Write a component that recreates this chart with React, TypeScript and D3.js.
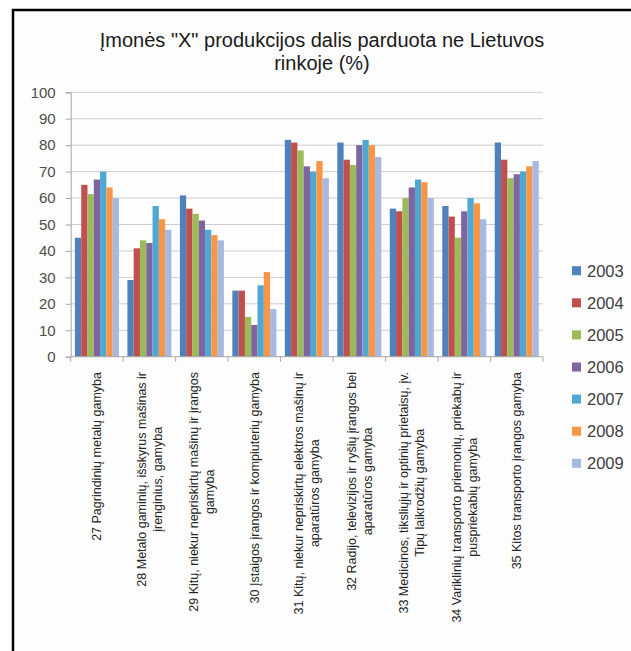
import React, { useEffect, useRef } from "react";
import * as d3 from "d3";

const years = ["2003", "2004", "2005", "2006", "2007", "2008", "2009"];
const yearColors = ["#4F81BD", "#C0504D", "#9BBB59", "#8064A2", "#4FA8D2", "#F79646", "#A7B9E0"];

const categories = ["27", "28", "29", "30", "31", "32", "33", "34", "35"];
const categoryLabels = [
  ["27 Pagrindinių metalų gamyba"],
  ["28 Metalo gaminių, išskyrus mašinas ir", "įrenginius, gamyba"],
  ["29 Kitų, niekur nepriskirtų mašinų ir įrangos", "gamyba"],
  ["30 Įstaigos įrangos ir kompiuterių gamyba"],
  ["31 Kitų, niekur nepriskirtų elektros mašinų ir", "aparatūros gamyba"],
  ["32 Radijo, televizijos ir ryšių įrangos bei", "aparatūros gamyba"],
  ["33 Medicinos, tiksliųjų ir optinių prietaisų, įv.", "Tipų laikrodžių gamyba"],
  ["34 Variklinių transporto priemonių, priekabų ir", "puspriekabių gamyba"],
  ["35 Kitos transporto įrangos gamyba"],
];

const v2003 = [45, 29, 61, 25, 82, 81, 56, 57, 81];
const v2004 = [65, 41, 56, 25, 81, 74.5, 55, 53, 74.5];
const v2005 = [61.5, 44, 54, 15, 78, 72.5, 60, 45, 67.5];
const v2006 = [67, 43, 51.5, 12, 72, 80, 64, 55, 69];
const v2007 = [70, 57, 48, 27, 70, 82, 67, 60, 70];
const v2008 = [64, 52, 46, 32, 74, 80, 66, 58, 72];
const v2009 = [60, 48, 44, 18, 67.5, 75.5, 60, 52, 74];
const seriesValues = [v2003, v2004, v2005, v2006, v2007, v2008, v2009];

const yTicks = [0, 10, 20, 30, 40, 50, 60, 70, 80, 90, 100];
const titleLines = ['Įmonės "X" produkcijos dalis parduota ne Lietuvos', "rinkoje (%)"];

export default function App() {
  const svgRef = useRef<SVGSVGElement>(null);
  const width = 631;
  const height = 651;

  useEffect(() => {
    const svg = d3.select(svgRef.current);
    svg.selectAll("*").remove();

    const plotLeft = 70.7, plotRight = 543, plotTop = 92.3, plotBottom = 356.7;
    const font = "Liberation Sans, Arial, sans-serif";

    // frame
    svg.append("rect").attr("x", 13).attr("y", 10).attr("width", width).attr("height", height)
      .attr("fill", "#fdfdfd").attr("stroke", "#000").attr("stroke-width", 2.5);

    // title
    svg.append("g").selectAll("text").data(titleLines).join("text")
      .attr("x", 322).attr("y", (d, i) => 47 + i * 23)
      .attr("text-anchor", "middle")
      .attr("font-family", font)
      .attr("font-size", 20)
      .attr("fill", "#1a1a1a")
      .text(d => d);

    const xScale = d3.scaleBand().domain(categories).range([plotLeft, plotRight])
      .paddingInner(0.161).paddingOuter(0.0805);
    const innerScale = d3.scaleBand().domain(years).range([0, xScale.bandwidth()]);
    const yScale = d3.scaleLinear().domain([0, 100]).range([plotBottom, plotTop]);

    // grid
    svg.append("g").selectAll("line").data(yTicks.filter(t => t > 0)).join("line")
      .attr("x1", plotLeft).attr("x2", plotRight)
      .attr("y1", d => yScale(d)).attr("y2", d => yScale(d))
      .attr("stroke", "#cdcdcd").attr("stroke-width", 1);

    // y axis
    const yAxis = d3.axisLeft(yScale).tickValues(yTicks).tickSize(5).tickPadding(10);
    const yg = svg.append("g").attr("transform", `translate(${plotLeft},0)`).call(yAxis);
    yg.select(".domain").attr("stroke", "#a6a6a6");
    yg.selectAll(".tick line").attr("stroke", "#a6a6a6");
    yg.selectAll(".tick text").attr("font-family", font)
      .attr("font-size", 15).attr("fill", "#4d4d4d");

    // bars
    seriesValues.forEach((vals, s) => {
      svg.append("g").selectAll("rect").data(vals).join("rect")
        .attr("x", (d, i) => xScale(categories[i])! + innerScale(years[s])!)
        .attr("width", innerScale.bandwidth())
        .attr("y", d => yScale(d))
        .attr("height", d => plotBottom - yScale(d))
        .attr("fill", yearColors[s]);
    });

    // x axis line and ticks between categories
    svg.append("line").attr("x1", plotLeft).attr("x2", plotRight)
      .attr("y1", plotBottom).attr("y2", plotBottom).attr("stroke", "#a6a6a6");
    const step = xScale.step();
    svg.append("g").selectAll("line").data(d3.range(categories.length + 1)).join("line")
      .attr("x1", d => plotLeft + d * step).attr("x2", d => plotLeft + d * step)
      .attr("y1", plotBottom).attr("y2", plotBottom + 5).attr("stroke", "#a6a6a6");

    // rotated category labels
    const fs = 12.5, lh = 16, labelTop = 372;
    categoryLabels.forEach((lines, c) => {
      const cx = xScale(categories[c])! + xScale.bandwidth() / 2;
      const g = svg.append("g");
      const texts = g.selectAll("text").data(lines).join("text")
        .attr("text-anchor", "middle")
        .attr("font-family", font)
        .attr("font-size", fs)
        .attr("fill", "#262626")
        .text(d => d);
      let maxLen = 0;
      texts.each(function () {
        maxLen = Math.max(maxLen, (this as SVGTextElement).getComputedTextLength());
      });
      const n = lines.length;
      texts.attr("transform", (d, i) => {
        const x = cx + (i - (n - 1) / 2) * lh + fs * 0.36;
        const y = labelTop + maxLen / 2;
        return `translate(${x},${y}) rotate(-90)`;
      });
    });

    // legend
    const legend = svg.append("g").attr("transform", "translate(572,0)");
    years.forEach((yr, i) => {
      const cy = 270.7 + i * 32.1;
      legend.append("rect").attr("x", 0).attr("y", cy - 4.5).attr("width", 9).attr("height", 9)
        .attr("fill", yearColors[i]);
      legend.append("text").attr("x", 15).attr("y", cy).attr("dy", "0.36em")
        .attr("font-family", font)
        .attr("font-size", 16.5).attr("fill", "#404040")
        .text(yr);
    });
  }, []);

  return (
    <svg ref={svgRef} width={width} height={height}
      style={{ position: "absolute", left: 0, top: 0, background: "#fff" }} />
  );
}
